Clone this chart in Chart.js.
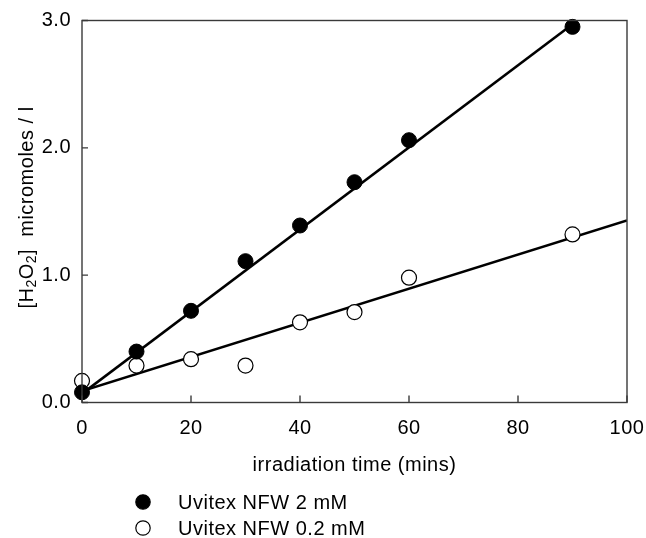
<!DOCTYPE html>
<html lang="en">
<head>
  <meta charset="UTF-8" />
  <title>H2O2 vs irradiation time</title>
  <script src="https://cdn.jsdelivr.net/npm/chart.js"></script>
  <style>
    body { margin: 0; background: #fff; }
    #wrap { width: 646px; height: 538px; }
  </style>
</head>
<body>
<div id="wrap"><canvas id="c" width="646" height="538"></canvas></div>
<script>
  // measured points
  const times = [0, 10, 20, 30, 40, 50, 60, 90];
  const uvitex2mM = [0.08, 0.40, 0.72, 1.11, 1.39, 1.73, 2.06, 2.95];
  const uvitex02mM = [0.17, 0.29, 0.34, 0.29, 0.63, 0.71, 0.98, 1.32];

  // fitted lines (end points)
  const fit2mMX = [0, 90];
  const fit2mMY = [0.07, 2.97];
  const fit02mMX = [0, 100];
  const fit02mMY = [0.09, 1.43];

  const xTicks = [0, 20, 40, 60, 80, 100];
  const yTicks = [0, 1, 2, 3];

  const FONT = '"Liberation Sans", Arial, sans-serif';
  const SPACING = '0.5px';
  const pts = (xs, ys) => xs.map((x, i) => ({ x: x, y: ys[i] }));

  const frame = {
    id: 'frame',
    beforeDraw(chart) {
      chart.ctx.letterSpacing = SPACING;
    },
    afterDatasetsDraw(chart) {
      const { ctx, chartArea: a, scales } = chart;
      ctx.save();
      ctx.letterSpacing = SPACING;
      ctx.strokeStyle = '#3a3a3a';
      ctx.lineWidth = 1.4;
      ctx.strokeRect(a.left, a.top, a.right - a.left, a.bottom - a.top);
      // inward ticks
      ctx.beginPath();
      xTicks.forEach(v => {
        const px = scales.x.getPixelForValue(v);
        ctx.moveTo(px, a.bottom); ctx.lineTo(px, a.bottom - 7);
      });
      yTicks.forEach(v => {
        const py = scales.y.getPixelForValue(v);
        ctx.moveTo(a.left, py); ctx.lineTo(a.left + 6, py);
      });
      ctx.stroke();

      ctx.fillStyle = '#000';
      // x title
      ctx.font = '20px ' + FONT;
      ctx.textAlign = 'center';
      ctx.textBaseline = 'middle';
      ctx.fillText('irradiation time (mins)', (a.left + a.right) / 2, 465);

      // y title with subscripts
      const parts = [
        ['[H', false], ['2', true], ['O', false], ['2', true], [']  micromoles / l', false]
      ];
      const fontFor = sub => (sub ? '14px ' : '20px ') + FONT;
      let total = 0;
      parts.forEach(p => { ctx.font = fontFor(p[1]); total += ctx.measureText(p[0]).width; });
      ctx.translate(33, (a.top + a.bottom) / 2 - 4);
      ctx.rotate(-Math.PI / 2);
      ctx.textAlign = 'left';
      ctx.textBaseline = 'alphabetic';
      let x = -total / 2;
      parts.forEach(p => {
        ctx.font = fontFor(p[1]);
        ctx.fillText(p[0], x, p[1] ? 3 : 0);
        x += ctx.measureText(p[0]).width;
      });
      ctx.setTransform(1, 0, 0, 1, 0, 0);

      // legend
      const legend = [
        ['Uvitex NFW 2 mM', '#000'],
        ['Uvitex NFW 0.2 mM', '#fff']
      ];
      ctx.font = '20px ' + FONT;
      ctx.textBaseline = 'middle';
      legend.forEach((l, i) => {
        const cy = 502 + i * 26;
        ctx.beginPath();
        ctx.arc(143, cy, 7.2, 0, Math.PI * 2);
        ctx.fillStyle = l[1];
        ctx.fill();
        ctx.lineWidth = 1.2;
        ctx.strokeStyle = '#000';
        ctx.stroke();
        ctx.fillStyle = '#000';
        ctx.fillText(l[0], 178, cy + 1);
      });
      ctx.restore();
    }
  };

  new Chart(document.getElementById('c'), {
    type: 'scatter',
    data: {
      datasets: [
        {
          label: 'fit 2 mM', data: pts(fit2mMX, fit2mMY), showLine: true,
          borderColor: '#000', borderWidth: 2.6, pointRadius: 0, order: 2
        },
        {
          label: 'fit 0.2 mM', data: pts(fit02mMX, fit02mMY), showLine: true,
          borderColor: '#000', borderWidth: 2.6, pointRadius: 0, order: 2
        },
        {
          label: 'Uvitex NFW 2 mM', data: pts(times, uvitex2mM),
          pointRadius: 7.5, pointBackgroundColor: '#000', pointBorderColor: '#000',
          pointBorderWidth: 1, clip: false, order: 1
        },
        {
          label: 'Uvitex NFW 0.2 mM', data: pts(times, uvitex02mM),
          pointRadius: 7.5, pointBackgroundColor: '#fff', pointBorderColor: '#000',
          pointBorderWidth: 1.2, clip: false, order: 1
        }
      ]
    },
    options: {
      responsive: false,
      animation: false,
      events: [],
      layout: { padding: { left: 0, top: 20.5, right: 19, bottom: 95.5 } },
      plugins: { legend: { display: false }, tooltip: { enabled: false } },
      scales: {
        x: {
          type: 'linear', min: 0, max: 100,
          afterFit: s => { s.height = 40; s.paddingLeft = 0; s.paddingRight = 0; },
          afterBuildTicks: s => { s.ticks = xTicks.map(v => ({ value: v })); },
          grid: { display: false, drawTicks: false },
          border: { display: false },
          ticks: { color: '#000', padding: 14, font: { family: FONT, size: 20 }, maxRotation: 0 }
        },
        y: {
          min: 0, max: 3,
          afterFit: s => { s.width = 82; s.paddingTop = 0; s.paddingBottom = 0; },
          afterBuildTicks: s => { s.ticks = yTicks.map(v => ({ value: v })); },
          grid: { display: false, drawTicks: false },
          border: { display: false },
          ticks: {
            color: '#000', padding: 11, font: { family: FONT, size: 20 },
            callback: v => v.toFixed(1)
          }
        }
      }
    },
    plugins: [frame]
  });
</script>
</body>
</html>
